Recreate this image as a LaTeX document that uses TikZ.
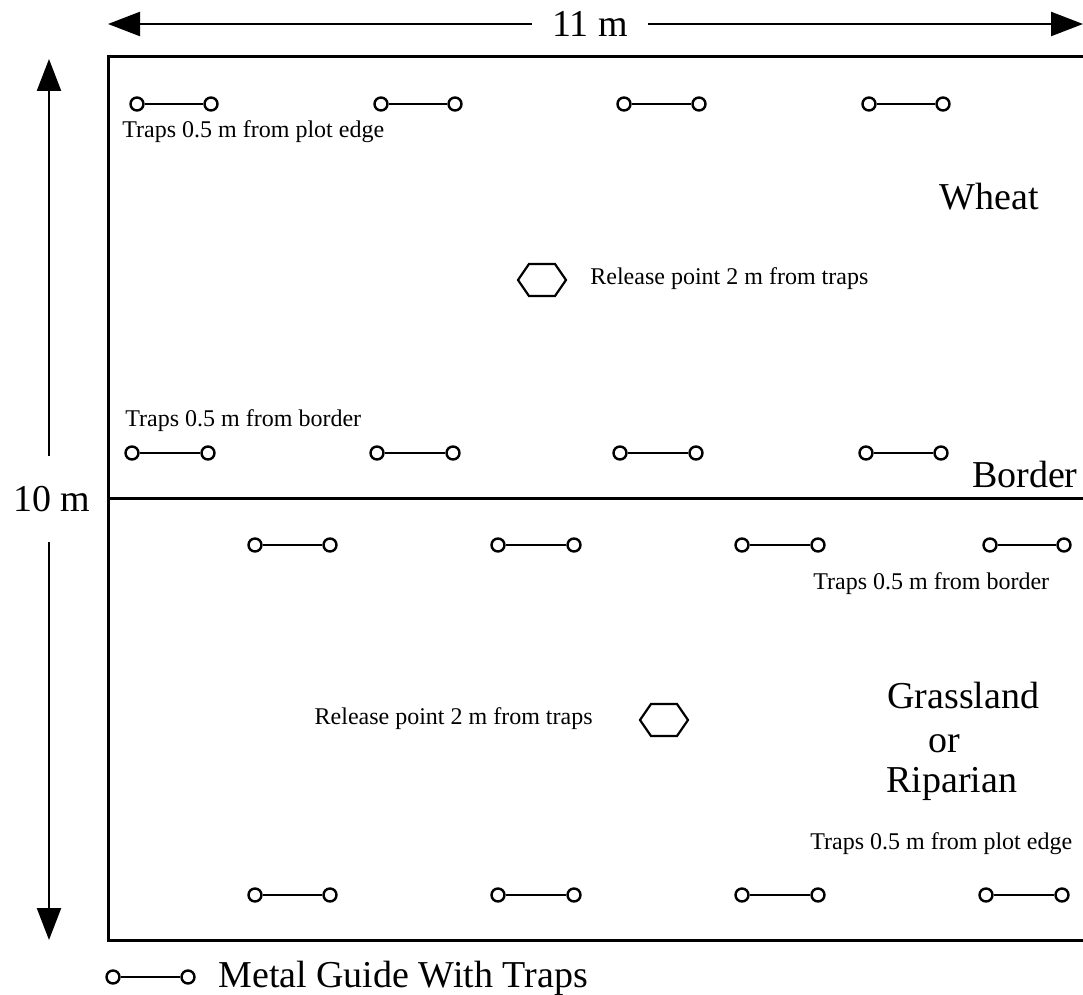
\documentclass[tikz,border=0pt]{standalone}
\usepackage{fontspec}
\setmainfont{Liberation Serif}
\usetikzlibrary{arrows.meta}
\tikzset{
  trapend/.style={circle, draw, line width=1.2pt, inner sep=0pt, minimum size=6.5pt, fill=white},
  trapbar/.style={line width=1pt},
  plotline/.style={line width=1.5pt},
  hexline/.style={line width=1.1pt, line join=miter},
  dimline/.style={line width=1.2pt},
  dimtip/.style={dimline, -{Triangle[length=16pt,width=12pt]}},
  smalltext/.style={inner sep=0pt, font=\fontsize{12}{14}\selectfont},
  bigtext/.style={inner sep=0pt, font=\fontsize{19}{20}\selectfont},
}
\newcommand{\trap}[4]{%
  \node[trapend] (#1a) at (#2,#4) {};
  \node[trapend] (#1b) at (#3,#4) {};
  \draw[trapbar] (#1a) -- (#1b);
}
\newcommand{\relhex}[1]{%
  \draw[hexline] (#1) +(-24,0) -- +(-13,-16) -- +(13,-16) -- +(24,0)
    -- +(13,16) -- +(-13,16) -- cycle;
}
\begin{document}
\begin{tikzpicture}[x=0.5pt, y=-0.5pt]
  \useasboundingbox (0,0) rectangle (1083,995);

  \draw[plotline] (108,57) rectangle (1092,940);
  \draw[plotline] (108,498) -- (1092,498);

  \coordinate (wl) at (108,24);
  \coordinate (wr) at (1083,24);
  \node[bigtext, inner xsep=10pt] (wlab) at (590,24) {11 m};
  \draw[dimtip] (wlab) -- (wl);
  \draw[dimtip] (wlab) -- (wr);

  \coordinate (ht) at (49,59);
  \coordinate (hb) at (49,940);
  \node[bigtext, inner ysep=15pt] (hlab) at (52,499) {10 m};
  \draw[dimtip] (hlab.north -| ht) -- (ht);
  \draw[dimtip] (hlab.south -| hb) -- (hb);

  \foreach \xa/\xb [count=\i] in {137/211, 381/455, 624/699, 869/943}
    {\trap{wt\i}{\xa}{\xb}{104}}
  \foreach \xa/\xb [count=\i] in {132/208, 377/453, 620/696, 866/941}
    {\trap{wb\i}{\xa}{\xb}{453}}
  \foreach \xa/\xb [count=\i] in {255/330, 498/574, 742/818, 990/1064}
    {\trap{gt\i}{\xa}{\xb}{545}}
  \foreach \xa/\xb [count=\i] in {255/330, 498/574, 742/818, 986/1062}
    {\trap{gb\i}{\xa}{\xb}{895}}

  \node[smalltext, anchor=mid west] (wtlab) at (122,133) {Traps 0.5 m from plot edge};
  \node[smalltext, anchor=mid west] (wblab) at (125,422) {Traps 0.5 m from border};
  \node[bigtext, anchor=base] (wheat) at (989,210) {Wheat};
  \coordinate (rel1) at (542,280);
  \relhex{rel1}
  \node[smalltext, anchor=mid west] (rel1lab) at (590,280) {Release point 2 m from traps};
  \node[bigtext, anchor=base east] (bordlab) at (1078,487) {Border};

  \node[smalltext, anchor=mid west] (gtlab) at (813,585) {Traps 0.5 m from border};
  \coordinate (rel2) at (664,720);
  \relhex{rel2}
  \node[smalltext, anchor=mid east] (rel2lab) at (593,720) {Release point 2 m from traps};
  \node[bigtext, anchor=base west] (grass) at (887,708) {Grassland};
  \node[bigtext, anchor=base west] (gor) at (928,752) {or};
  \node[bigtext, anchor=base west] (ripar) at (886,792) {Riparian};
  \node[smalltext, anchor=mid west] (gblab) at (810,845) {Traps 0.5 m from plot edge};

  \trap{leg}{113}{188}{977}
  \node[bigtext, anchor=base west] (leglab) at (218,987) {Metal Guide With Traps};
\end{tikzpicture}
\end{document}
